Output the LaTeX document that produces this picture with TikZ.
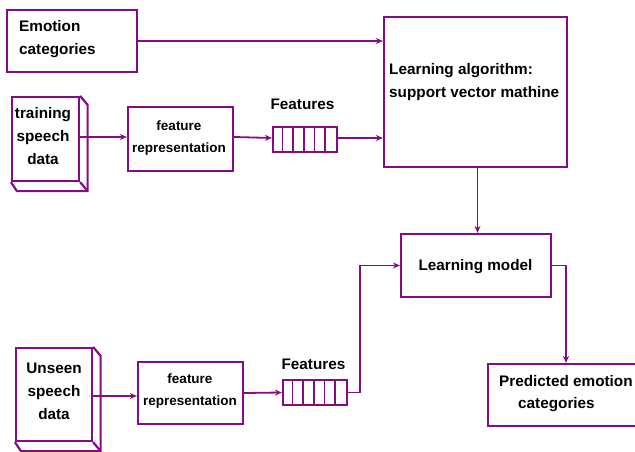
\documentclass[tikz,border=0pt]{standalone}
\usepackage{fontspec}
\setmainfont{Liberation Sans}
\usetikzlibrary{arrows.meta}
\definecolor{pur}{RGB}{132,12,132}
\begin{document}
\begin{tikzpicture}[x=1pt,y=-1pt,
  boxline/.style={draw=pur,line width=2.2pt},
  box/.style={boxline,rectangle,inner sep=0pt,minimum width=#1},
  arr/.style={draw=pur,line width=1.8pt,-{Stealth[length=7pt,width=6pt]}},
  big/.style={font=\bfseries\fontsize{15.3}{23}\selectfont,inner sep=0pt,text=black},
  small/.style={font=\bfseries\fontsize{13.5}{22}\selectfont,inner sep=0pt,text=black,align=center}]
\useasboundingbox (0,0) rectangle (635,452);
\clip (0,0) rectangle (635,452);
% boxes
\node[box=130, minimum height=62] (emo) at (72,41) {};
\node[box=183, minimum height=150] (la) at (475.5,92) {};
\node[box=150, minimum height=63] (lm) at (476,265.5) {};
\node[box=156, minimum height=62] (pred) at (566,395) {};
\node[box=67, minimum height=84] (tr) at (45.5,139) {};
\node[box=76, minimum height=93] (us) at (54,394.5) {};
\node[box=105, minimum height=64] (fr1) at (180.5,139) {};
\node[box=105, minimum height=62] (fr2) at (190.5,393) {};
\node[box=64, minimum height=25] (reg1) at (305,139.5) {};
\node[box=64, minimum height=25] (reg2) at (315,392.5) {};
% register cells
\foreach \r in {reg1,reg2}{
  \foreach \i in {1,...,5}{
    \draw[draw=pur,line width=1.8pt] ([xshift=\i*64/6]\r.north west) -- ([xshift=\i*64/6]\r.south west);
  }
}
% 3D extrusions
\foreach \b in {tr,us}{
  \draw[boxline,line join=miter] (\b.north east) -- ++(7.5,9) |- ([shift={(6,9)}]\b.south west) -- (\b.south west);
  \draw[boxline] (\b.south east) -- ++(7.5,9);
}
% texts (anchor at baseline of last line)
\node[big,anchor=base west,align=left] (emot) at (19,55) {Emotion\\categories};
\node[big,anchor=base west,align=left] (lat) at (389,97) {Learning algorithm:\\[-1pt]support vector mathine};
\node[big,anchor=base] (lmt) at (475.5,270) {Learning model};
\node[big,anchor=base west,align=left] (predt) at (499,408) {Predicted emotion\\[-1pt]\hspace*{19pt}categories};
\node[big,anchor=base,align=center] (trt) at (43,164) {training\\speech\\data};
\node[big,anchor=base,align=center] (ust) at (54,419) {Unseen\\speech\\data};
\node[small,anchor=base] (fr1t) at (179,152) {feature\\representation};
\node[small,anchor=base] (fr2t) at (190,405) {feature\\representation};
\node[big,anchor=base] (f1) at (302.5,110) {Features};
\node[big,anchor=base] (f2) at (313.5,369) {Features};
% connectors
\draw[arr] (emo.east) -- (emo.east -| la.west);
\draw[arr] ([yshift=2]tr.east) -- ([yshift=2]tr.east -| fr1.west);
\draw[arr] ([yshift=2]fr1.east) -- ([yshift=1.5]reg1.west);
\draw[arr] ([yshift=1.5]reg1.east) -- ([yshift=1.5]reg1.east -| la.west);
\draw[arr] ([xshift=2]la.south) -- ([xshift=2]la.south |- lm.north);
\draw[arr] ([yshift=-1.5]us.east) -- ([yshift=-1.5]us.east -| fr2.west);
\draw[arr] (fr2.east) -- (reg2.west);
\draw[arr] (reg2.east) -- ++(12,0) |- (lm.west);
\draw[arr] (lm.east) -| (pred.north);
\end{tikzpicture}
\end{document}
